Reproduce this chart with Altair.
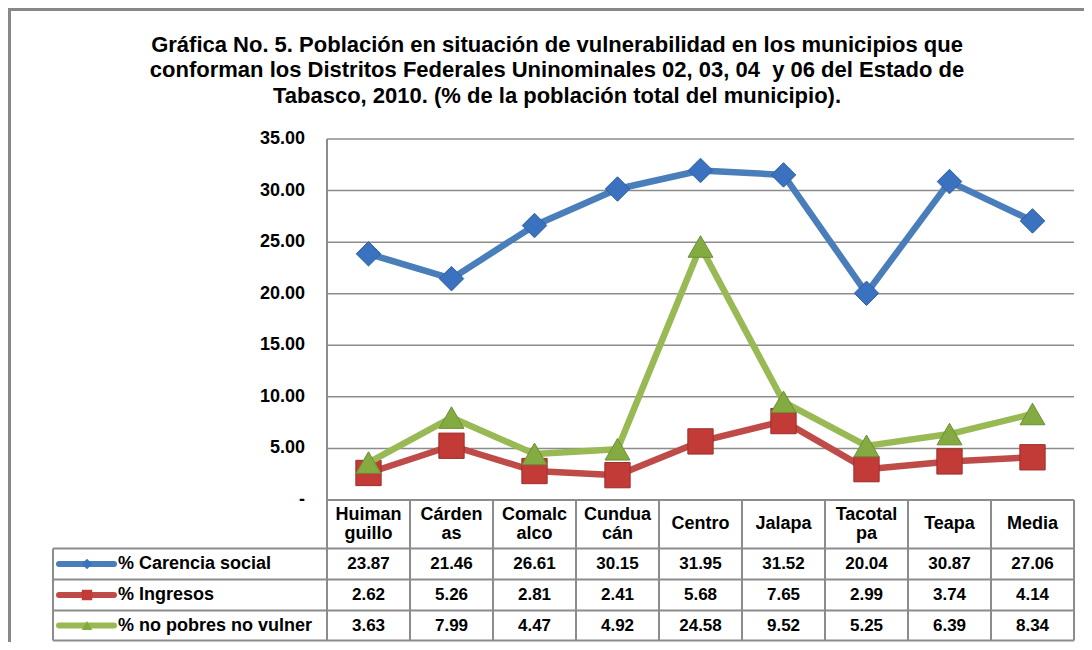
import altair as alt
import pandas as pd

# ---------------- data ----------------
municipios = ["Huimanguillo", "Cárdenas", "Comalcalco", "Cunduacán", "Centro",
              "Jalapa", "Tacotalpa", "Teapa", "Media"]
header_line1 = ["Huiman", "Cárden", "Comalc", "Cundua", "Centro",
                "Jalapa", "Tacotal", "Teapa", "Media"]
header_line2 = ["guillo", "as", "alco", "cán", "", "", "pa", "", ""]
series_names = ["% Carencia social", "% Ingresos", "% no pobres no vulner"]
carencia = [23.87, 21.46, 26.61, 30.15, 31.95, 31.52, 20.04, 30.87, 27.06]
ingresos = [2.62, 5.26, 2.81, 2.41, 5.68, 7.65, 2.99, 3.74, 4.14]
no_pobres = [3.63, 7.99, 4.47, 4.92, 24.58, 9.52, 5.25, 6.39, 8.34]
y_ticks = [0, 5, 10, 15, 20, 25, 30, 35]
y_tick_labels = ["-\u00a0\u00a0", "5.00", "10.00", "15.00", "20.00", "25.00", "30.00", "35.00"]
title_lines = [
    "Gráfica No. 5. Población en situación de vulnerabilidad en los municipios que",
    "conforman los Distritos Federales Uninominales 02, 03, 04 \u00a0y 06 del Estado de",
    "Tabasco, 2010. (% de la población total del municipio).",
]

# ---------------- layout (pixels) ----------------
VIEW_LEFT, VIEW_TOP = 53, 139
COL_W = 83
LEG_W = 274
N = len(municipios)
PLOT_H = 361
Y_MAX = 35
ROW_H = [48.5, 31, 31, 30]          # header row + three data rows
PPU = PLOT_H / Y_MAX
W = LEG_W + N * COL_W
H = PLOT_H + sum(ROW_H)


def yu(px_below_zero):
    return -px_below_zero / PPU


def xu(px_abs):
    return (px_abs - (VIEW_LEFT + LEG_W)) / COL_W


row_edges = [0]
for h in ROW_H:
    row_edges.append(row_edges[-1] + h)
row_centers = [(row_edges[i] + row_edges[i + 1]) / 2 for i in range(len(ROW_H))]

XS = alt.Scale(domain=[-LEG_W / COL_W, N], nice=False, zero=False)
YS = alt.Scale(domain=[yu(row_edges[-1]), Y_MAX], nice=False, zero=False)


def X(f):
    return alt.X(f, type="quantitative", scale=XS, axis=None)


def Y(f):
    return alt.Y(f, type="quantitative", scale=YS, axis=None)


GRID = "#8c8c8c"
FONT = "Liberation Sans"
colors_line = ["#4a7ebb", "#be4b48", "#98b954"]
colors_fill = ["#3b72bf", "#c33b37", "#84ab42"]
colors_edge = ["#2f5f9e", "#9c2d2a", "#6b8f33"]
shapes = ["diamond", "square", "triangle-up"]
sizes = [600, 640, 620]
values = [carencia, ingresos, no_pobres]

layers = []

# gridlines (5..35)
grid_df = pd.DataFrame({"y": y_ticks[1:], "x0": 0, "x1": N})
layers.append(alt.Chart(grid_df).mark_rule(color=GRID, strokeWidth=1.5).encode(
    x=X("x0"), x2="x1", y=Y("y")))

# table horizontal lines
hl = [{"y": 0, "x0": 0, "x1": N}]
for e in row_edges[1:]:
    hl.append({"y": yu(e), "x0": -LEG_W / COL_W, "x1": N})
layers.append(alt.Chart(pd.DataFrame(hl)).mark_rule(color=GRID, strokeWidth=2).encode(
    x=X("x0"), x2="x1", y=Y("y")))

# table vertical lines
vl = [{"x": -LEG_W / COL_W, "y0": yu(row_edges[1]), "y1": yu(row_edges[-1])},
      {"x": 0, "y0": Y_MAX, "y1": yu(row_edges[-1])}]
for i in range(1, N + 1):
    vl.append({"x": i, "y0": 0, "y1": yu(row_edges[-1])})
layers.append(alt.Chart(pd.DataFrame(vl)).mark_rule(color=GRID, strokeWidth=2).encode(
    x=X("x"), y=Y("y0"), y2="y1"))

# y tick labels
ylab_df = pd.DataFrame({"y": y_ticks, "t": y_tick_labels, "x": 0})
layers.append(alt.Chart(ylab_df).mark_text(
    font=FONT, fontSize=18, fontWeight="bold", align="right", baseline="middle",
    dx=-22, color="#000").encode(x=X("x"), y=Y("y"), text="t:N"))

# series lines + markers
for k in range(3):
    df = pd.DataFrame({"x": [i + 0.5 for i in range(N)], "v": values[k], "m": municipios})
    layers.append(alt.Chart(df).mark_line(
        color=colors_line[k], strokeWidth=6.5, strokeJoin="round", strokeCap="round").encode(
        x=X("x"), y=Y("v"), order="x:Q"))
    layers.append(alt.Chart(df).mark_point(
        shape=shapes[k], filled=True, fill=colors_fill[k], stroke=colors_edge[k],
        strokeWidth=1, opacity=1, size=sizes[k]).encode(x=X("x"), y=Y("v")))

# header row text (one- or two-line labels, centred in the cell)
hdr_rows = []
for i in range(N):
    if header_line2[i]:
        hdr_rows.append({"x": i + 0.5, "y": yu(row_centers[0] - 9), "t": header_line1[i]})
        hdr_rows.append({"x": i + 0.5, "y": yu(row_centers[0] + 9.5), "t": header_line2[i]})
    else:
        hdr_rows.append({"x": i + 0.5, "y": yu(row_centers[0]), "t": header_line1[i]})
layers.append(alt.Chart(pd.DataFrame(hdr_rows)).mark_text(
    font=FONT, fontSize=18, fontWeight="bold", align="center", baseline="middle",
    color="#000").encode(x=X("x"), y=Y("y"), text="t:N"))

# table values
rows = []
for k in range(3):
    for i in range(N):
        rows.append({"x": i + 0.5, "y": yu(row_centers[k + 1]), "t": f"{values[k][i]:.2f}"})
layers.append(alt.Chart(pd.DataFrame(rows)).mark_text(
    font=FONT, fontSize=17, fontWeight="bold", align="center", baseline="middle",
    color="#000").encode(x=X("x"), y=Y("y"), text="t:N"))

# legend column: symbol lines, markers, labels
for k in range(3):
    yc = yu(row_centers[k + 1])
    seg = pd.DataFrame({"x0": [xu(59)], "x1": [xu(114)], "y": [yc]})
    layers.append(alt.Chart(seg).mark_rule(
        color=colors_line[k], strokeWidth=6, strokeCap="round").encode(
        x=X("x0"), x2="x1", y=Y("y")))
    pt = pd.DataFrame({"x": [xu(87)], "y": [yc]})
    layers.append(alt.Chart(pt).mark_point(
        shape=shapes[k], filled=True, fill=colors_fill[k], opacity=1,
        size=110).encode(x=X("x"), y=Y("y")))
    lab = pd.DataFrame({"x": [xu(118)], "y": [yc], "t": [series_names[k]]})
    layers.append(alt.Chart(lab).mark_text(
        font=FONT, fontSize=18, fontWeight="bold", align="left", baseline="middle",
        color="#000").encode(x=X("x"), y=Y("y"), text="t:N"))

# outer frame (decoration)
layers.append(alt.Chart(pd.DataFrame({"a": [0]})).mark_rule(color="#888888", strokeWidth=3).encode(
    x=alt.value(8 - VIEW_LEFT), x2=alt.value(1100 - VIEW_LEFT), y=alt.value(9.5 - VIEW_TOP)))
layers.append(alt.Chart(pd.DataFrame({"a": [0]})).mark_rule(color="#888888", strokeWidth=3).encode(
    x=alt.value(9.5 - VIEW_LEFT), y=alt.value(8 - VIEW_TOP), y2=alt.value(660 - VIEW_TOP)))

# title lines
title_y = [45, 70, 96]
for line, ty in zip(title_lines, title_y):
    layers.append(alt.Chart(pd.DataFrame({"a": [0]})).mark_text(
        text=line, font=FONT, fontSize=22, fontWeight="bold", align="center",
        baseline="middle", color="#000").encode(
        x=alt.value(557 - VIEW_LEFT), y=alt.value(ty - VIEW_TOP)))

chart = alt.layer(*layers).properties(
    width=W, height=H,
    autosize=alt.AutoSizeParams(type="none"),
    padding={"left": VIEW_LEFT - 8, "top": VIEW_TOP - 8,
             "right": 10, "bottom": 642 - VIEW_TOP - H},
    background="white",
).configure_view(stroke=None)

chart.save("out.html", embed_options={"renderer": "svg", "actions": False})
